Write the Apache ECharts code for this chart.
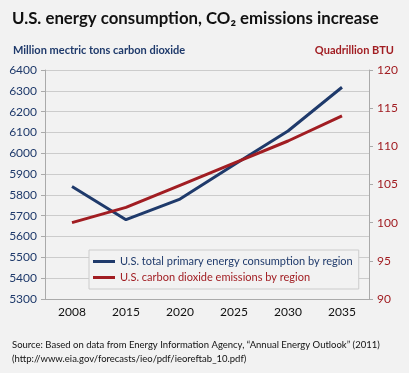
<!DOCTYPE html>
<html><head><meta charset="utf-8">
<script src="https://cdn.jsdelivr.net/npm/echarts@6/dist/echarts.min.js"></script>
<style>html,body{margin:0;padding:0;background:#f2f2f2;}#c{width:409px;height:373px;}</style>
</head><body><div id="c"></div>
<script>
const categories = ['2008','2015','2020','2025','2030','2035'];
const energySeries = [5840, 5681, 5780, 5945, 6107, 6317];
const co2Series = [100.0, 102.0, 104.9, 107.8, 110.7, 114.0];
const leftTicks = {min: 5300, max: 6400, interval: 100};
const rightTicks = {min: 90, max: 120, interval: 5};

const NAVY = '#1f3a6b', RED = '#a11d22';
const FONT = 'Lato';
const chart = echarts.init(document.getElementById('c'), null, {renderer: 'canvas'});
chart.setOption({
  backgroundColor: '#f2f2f2',
  animation: false,
  textStyle: {fontFamily: FONT},
  grid: {left: 45, right: 40, top: 70, bottom: 74},
  xAxis: {
    type: 'category', data: categories, boundaryGap: true,
    axisLine: {lineStyle: {color: '#aaaaaa'}},
    axisTick: {lineStyle: {color: '#aaaaaa'}, length: 4},
    axisLabel: {color: '#111', fontSize: 12, fontFamily: FONT, margin: 7}
  },
  yAxis: [
    {type: 'value', min: leftTicks.min, max: leftTicks.max, interval: leftTicks.interval,
     axisLine: {show: true, lineStyle: {color: '#aaaaaa'}},
     axisTick: {show: true, length: 4, lineStyle: {color: '#aaaaaa'}},
     splitLine: {lineStyle: {color: '#cccccc'}},
     axisLabel: {color: NAVY, fontSize: 12, fontFamily: FONT, margin: 8, formatter: v => String(v)}},
    {type: 'value', min: rightTicks.min, max: rightTicks.max, interval: rightTicks.interval, position: 'right',
     axisLine: {show: true, lineStyle: {color: '#aaaaaa'}},
     axisTick: {show: true, length: 4, lineStyle: {color: '#aaaaaa'}},
     splitLine: {show: false},
     axisLabel: {color: RED, fontSize: 12, fontFamily: FONT, margin: 8, formatter: v => String(v)}}
  ],
  legend: {
    orient: 'vertical', left: 89, top: 250,
    padding: [6, 6, 6, 4], itemGap: 5,
    borderColor: '#cccccc', borderWidth: 1, backgroundColor: '#f2f2f2',
    itemWidth: 22, itemHeight: 3, icon: 'rect',
    textStyle: {fontSize: 11, fontFamily: FONT},
    data: [
      {name: 'U.S. total primary energy consumption by region', textStyle: {color: NAVY}},
      {name: 'U.S. carbon dioxide emissions by region', textStyle: {color: RED}}
    ]
  },
  series: [
    {name: 'U.S. total primary energy consumption by region', type: 'line', yAxisIndex: 0,
     data: energySeries, symbol: 'none', color: NAVY, lineStyle: {width: 3, color: NAVY}},
    {name: 'U.S. carbon dioxide emissions by region', type: 'line', yAxisIndex: 1,
     data: co2Series, symbol: 'none', color: RED, lineStyle: {width: 3, color: RED}}
  ],
  graphic: [
    {type: 'text', left: 12, top: 10, style: {text: 'U.S. energy consumption, CO₂ emissions increase', fill: '#111', font: 'bold 16.8px "' + FONT + '"'}},
    {type: 'text', left: 13, top: 45, style: {text: 'Million mectric tons carbon dioxide', fill: NAVY, font: 'bold 11px "' + FONT + '"'}},
    {type: 'text', right: 15, top: 45, style: {text: 'Quadrillion BTU', fill: RED, font: 'bold 11px "' + FONT + '"'}},
    {type: 'text', left: 12, top: 338, style: {text: 'Source: Based on data from Energy Information Agency, “Annual Energy Outlook” (2011)\n(http://www.eia.gov/forecasts/ieo/pdf/ieoreftab_10.pdf)', fill: '#111', font: '9.5px "' + FONT + '"', lineHeight: 14}}
  ]
});
</script></body></html>
